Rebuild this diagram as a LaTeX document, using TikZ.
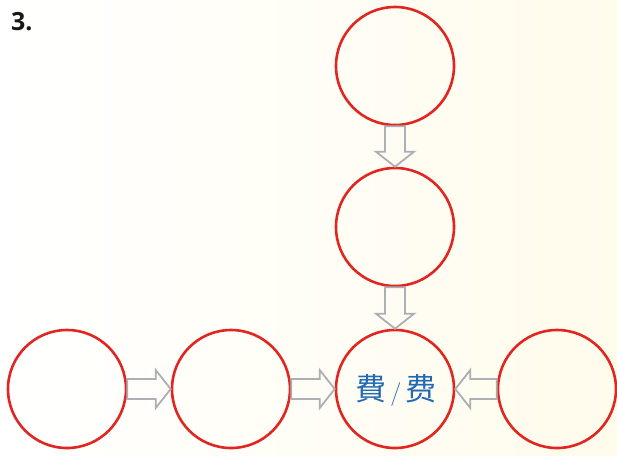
\documentclass[tikz,border=0pt]{standalone}
\usepackage{fontspec}
\newfontfamily\cjk{Noto Sans CJK SC}
\newfontfamily\labelfont{Open Sans}
\usetikzlibrary{calc}
\definecolor{ringred}{RGB}{225,38,34}
\definecolor{arrgray}{RGB}{172,175,180}
\definecolor{txtblue}{RGB}{35,105,180}
\definecolor{cream}{RGB}{255,252,236}
\tikzset{
  ring/.style={circle,draw=ringred,line width=2.6pt,minimum size=118pt,inner sep=0pt},
  blockarr/.style={draw=arrgray,line width=1.8pt,line join=miter}
}
\newcommand{\blockarrow}[2]{%
  \draw[blockarr] ($(#1)!10pt!90:(#2)$) -- ($(#2)!15pt!(#1)!10pt!90:(#2)$)
    -- ($(#2)!15pt!(#1)!19pt!90:(#2)$) -- (#2)
    -- ($(#2)!15pt!(#1)!19pt!-90:(#2)$) -- ($(#2)!15pt!(#1)!10pt!-90:(#2)$)
    -- ($(#1)!10pt!-90:(#2)$) -- cycle;}
\begin{document}
\begin{tikzpicture}[x=1pt,y=-1pt]
\shade[left color=white,right color=cream] (0,0) rectangle (617,455);
\useasboundingbox (0,0) rectangle (617,455);
\node[anchor=base west,inner sep=0pt,font=\labelfont\bfseries\fontsize{25}{25}\selectfont,text=black!90] (num) at (11,30) {3.};
\node[ring] (t) at (395,66) {};
\node[ring] (m) at (395,227) {};
\node[ring] (c1) at (67,389) {};
\node[ring] (c2) at (231,389) {};
\node[ring] (c3) at (395,389) {};
\node[ring] (c4) at (557,389) {};
\node[text=txtblue,inner sep=0pt] (lbl) at (396,390) {{\cjk\fontsize{31}{31}\selectfont 費}\hspace{4pt}{\fontsize{24}{24}\selectfont /}\hspace{4pt}{\cjk\fontsize{31}{31}\selectfont 费}};
\blockarrow{t.south}{m.north}
\blockarrow{m.south}{c3.north}
\blockarrow{c1.east}{c2.west}
\blockarrow{c2.east}{c3.west}
\blockarrow{c4.west}{c3.east}
\end{tikzpicture}
\end{document}
